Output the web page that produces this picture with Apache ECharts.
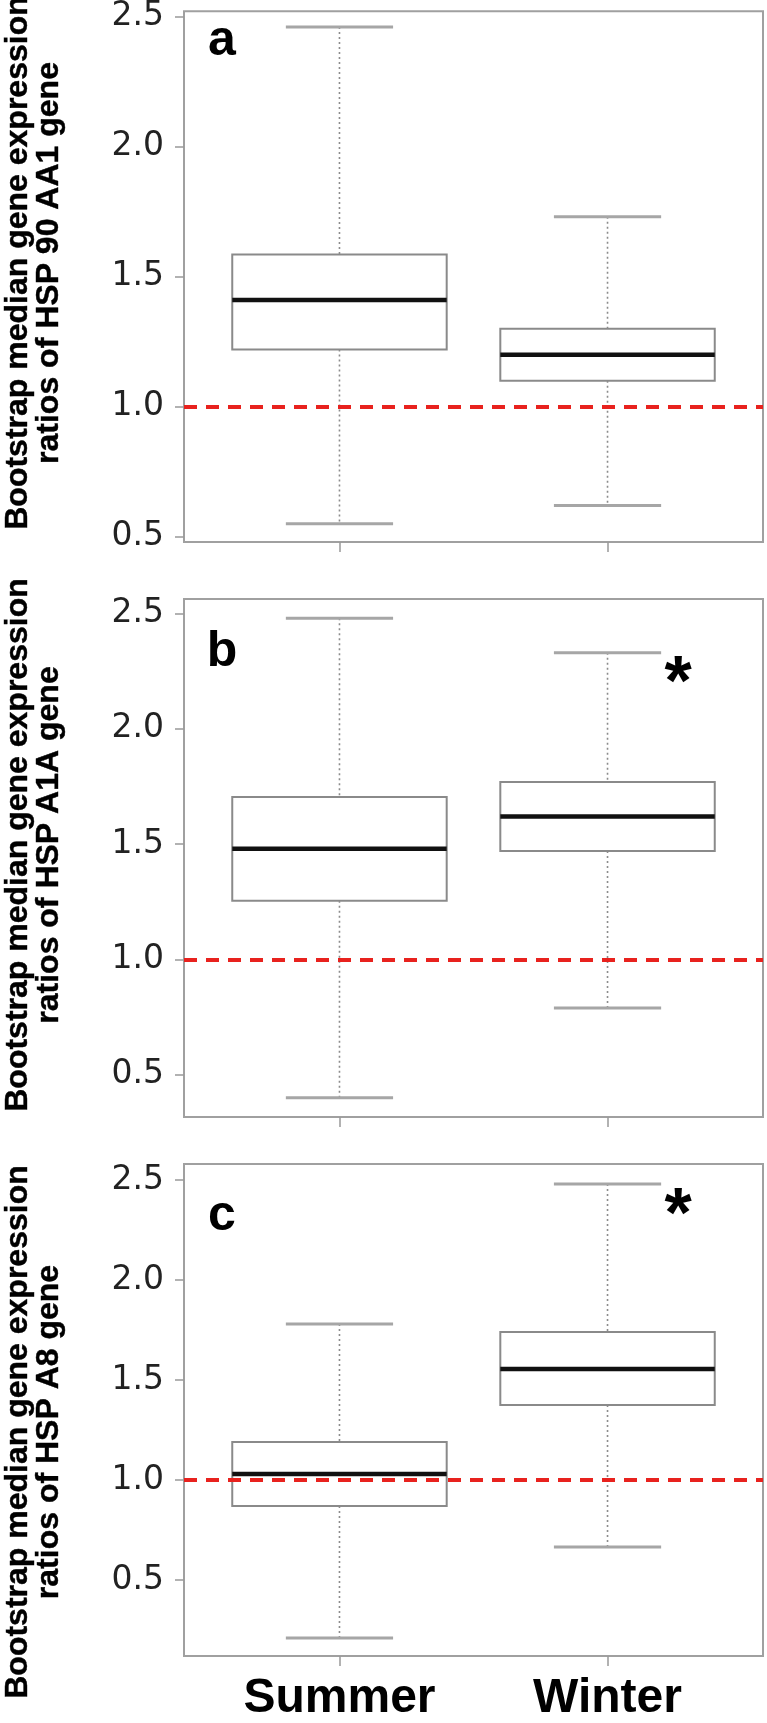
<!DOCTYPE html>
<html>
<head>
<meta charset="utf-8">
<script src="https://cdn.jsdelivr.net/npm/echarts@6/dist/echarts.min.js"></script>
<style>
  html, body { margin: 0; padding: 0; background: #fff; }
  #chart { width: 767px; height: 1723px; }
</style>
</head>
<body>
<div id="chart"></div>
<script>
var seasons = ['Summer', 'Winter'];
var panelLetters = ['a', 'b', 'c'];
var geneNames = ['HSP 90 AA1', 'HSP A1A', 'HSP A8'];
var yTicks = [0.5, 1.0, 1.5, 2.0, 2.5];
var refRatio = 1.0;

// bootstrap medians: [lower whisker, Q1, median, Q3, upper whisker]
var hsp90aa1Summer = [0.55, 1.22, 1.41, 1.585, 2.46];
var hsp90aa1Winter = [0.62, 1.10, 1.20, 1.30, 1.73];
var hspa1aSummer = [0.40, 1.255, 1.48, 1.705, 2.48];
var hspa1aWinter = [0.79, 1.47, 1.62, 1.77, 2.33];
var hspa8Summer = [0.21, 0.87, 1.03, 1.19, 1.78];
var hspa8Winter = [0.665, 1.375, 1.555, 1.74, 2.48];

// winter significantly different from summer?
var winterStar = [false, true, true];

var BOX_WIDTH = 0.8;
var CAP_WIDTH = 0.4;

var panels = [
  { top: 5, height: 537, yMin: 0.48, yMax: 2.52, boxes: [hsp90aa1Summer, hsp90aa1Winter], titleY: 263, letterY: 41, starY: 0 },
  { top: 599, height: 518, yMin: 0.317, yMax: 2.563, boxes: [hspa1aSummer, hspa1aWinter], titleY: 845, letterY: 652, starY: 686 },
  { top: 1164, height: 504, yMin: 0.12, yMax: 2.58, boxes: [hspa8Summer, hspa8Winter], titleY: 1432, letterY: 1216, starY: 1218 }
];

function renderBox(params, api) {
  var x = api.value(0);
  var pLow = api.coord([x, api.value(1)]);
  var pQ1 = api.coord([x, api.value(2)]);
  var pMed = api.coord([x, api.value(3)]);
  var pQ3 = api.coord([x, api.value(4)]);
  var pHigh = api.coord([x, api.value(5)]);
  var boxHalf = api.size([BOX_WIDTH, 0])[0] / 2;
  var capHalf = api.size([CAP_WIDTH, 0])[0] / 2;
  var cx = pMed[0];
  function whisker() { return { stroke: '#8c8c8c', lineWidth: 1.6, lineDash: [2, 3] }; }
  function cap() { return { stroke: '#a6a6a6', lineWidth: 3 }; }
  return {
    type: 'group',
    children: [
      { type: 'line', shape: { x1: cx, y1: pHigh[1], x2: cx, y2: pQ3[1] }, style: whisker() },
      { type: 'line', shape: { x1: cx, y1: pQ1[1], x2: cx, y2: pLow[1] }, style: whisker() },
      { type: 'line', shape: { x1: cx - capHalf, y1: pHigh[1], x2: cx + capHalf, y2: pHigh[1] }, style: cap() },
      { type: 'line', shape: { x1: cx - capHalf, y1: pLow[1], x2: cx + capHalf, y2: pLow[1] }, style: cap() },
      { type: 'rect', shape: { x: cx - boxHalf, y: pQ3[1], width: boxHalf * 2, height: pQ1[1] - pQ3[1] },
        style: { fill: '#fff', stroke: '#8a8a8a', lineWidth: 2 } },
      { type: 'line', shape: { x1: cx - boxHalf, y1: pMed[1], x2: cx + boxHalf, y2: pMed[1] },
        style: { stroke: '#111', lineWidth: 4.5 } }
    ]
  };
}

var grids = [], xAxes = [], yAxes = [], series = [], graphics = [];

panels.forEach(function (p, i) {
  var last = i === panels.length - 1;
  grids.push({
    left: 184, right: 4, top: p.top, height: p.height,
    show: true, borderColor: '#a0a0a0', borderWidth: 2
  });
  xAxes.push({
    type: 'value', gridIndex: i, min: 0.42, max: 2.58,
    axisLine: { show: false },
    splitLine: { show: false },
    axisTick: { show: true, customValues: [1, 2], length: 10, lineStyle: { color: '#999', width: 1.5 } },
    axisLabel: {
      show: last, customValues: [1, 2],
      formatter: function (v) { return seasons[Math.round(v) - 1]; },
      fontFamily: 'Liberation Sans', fontWeight: 'bold', fontSize: 48, color: '#000', margin: 19
    }
  });
  yAxes.push({
    type: 'value', gridIndex: i, min: p.yMin, max: p.yMax,
    axisLine: { show: false },
    splitLine: { show: false },
    axisTick: { show: true, customValues: yTicks, length: 9, lineStyle: { color: '#999', width: 1.5 } },
    axisLabel: {
      customValues: yTicks,
      formatter: function (v) { return v.toFixed(1); },
      fontFamily: 'DejaVu Sans', fontSize: 33, color: '#222', margin: 20
    }
  });
  series.push({
    type: 'custom', xAxisIndex: i, yAxisIndex: i,
    renderItem: renderBox,
    encode: { x: 0, y: [1, 2, 3, 4, 5] },
    data: p.boxes.map(function (b, k) { return [k + 1].concat(b); }),
    markLine: {
      silent: true, symbol: ['none', 'none'], z: 5,
      label: { show: false },
      lineStyle: { color: '#e8221e', width: 4, type: [13, 9] },
      data: [{ yAxis: refRatio }]
    }
  });

  graphics.push({
    type: 'text', x: 34, y: p.titleY, rotation: Math.PI / 2,
    style: {
      text: 'Bootstrap median gene expression\nratios of ' + geneNames[i] + ' gene',
      font: 'bold 32px "Liberation Sans"', fill: '#000',
      stroke: '#000', lineWidth: 0.4,
      textAlign: 'center', textVerticalAlign: 'middle', lineHeight: 31
    }
  });
  graphics.push({
    type: 'text', x: 222, y: p.letterY,
    style: {
      text: panelLetters[i], font: 'bold 50px "Liberation Sans"', fill: '#000',
      textAlign: 'center', textVerticalAlign: 'middle'
    }
  });
  if (winterStar[i]) {
    graphics.push({
      type: 'text', x: 678, y: p.starY,
      style: {
        text: '*', font: 'bold 70px "Liberation Sans"', fill: '#000',
        textAlign: 'center', textVerticalAlign: 'middle'
      }
    });
  }
});

var chart = echarts.init(document.getElementById('chart'));
chart.setOption({
  animation: false,
  backgroundColor: '#fff',
  grid: grids,
  xAxis: xAxes,
  yAxis: yAxes,
  series: series,
  graphic: graphics
});
</script>
</body>
</html>
